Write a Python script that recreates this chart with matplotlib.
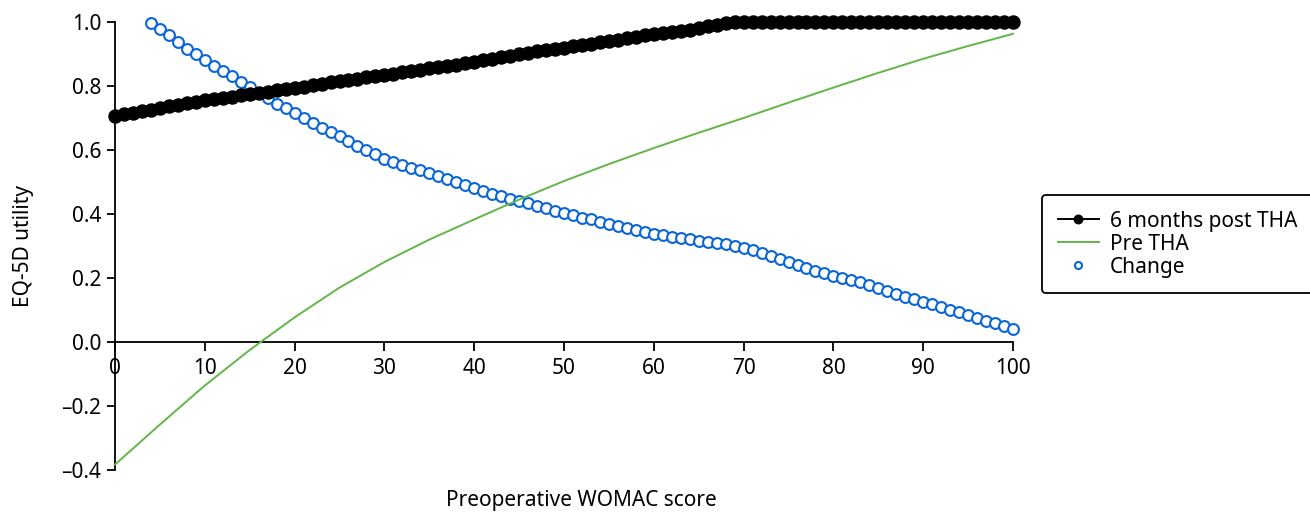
import matplotlib
matplotlib.use("Agg")
import matplotlib.pyplot as plt
import numpy as np

# values (one point per WOMAC unit)
post_x = list(range(0, 101))
post_tha = [
    0.707, 0.712, 0.717, 0.722, 0.726, 0.731, 0.736, 0.741, 0.746, 0.751,
    0.756, 0.760, 0.764, 0.767, 0.771, 0.775, 0.779, 0.782, 0.786, 0.790,
    0.793, 0.797, 0.802, 0.806, 0.811, 0.815, 0.819, 0.823, 0.827, 0.831,
    0.835, 0.839, 0.843, 0.847, 0.851, 0.855, 0.859, 0.863, 0.867, 0.871,
    0.875, 0.880, 0.885, 0.890, 0.895, 0.900, 0.904, 0.908, 0.912, 0.916,
    0.920, 0.924, 0.928, 0.932, 0.936, 0.940, 0.944, 0.949, 0.953, 0.958,
    0.962, 0.965, 0.968, 0.972, 0.976, 0.980, 0.986, 0.991, 0.997, 1.000,
    1.000, 1.000, 1.000, 1.000, 1.000, 1.000, 1.000, 1.000, 1.000, 1.000,
    1.000, 1.000, 1.000, 1.000, 1.000, 1.000, 1.000, 1.000, 1.000, 1.000,
    1.000, 1.000, 1.000, 1.000, 1.000, 1.000, 1.000, 1.000, 1.000, 1.000,
    1.000,
]

pre_x = [0, 5, 10, 15, 20, 25, 30, 35, 40, 45, 50, 55, 60, 65, 70, 75, 80, 85, 90, 95, 100]
pre_tha = [-0.383, -0.258, -0.136, -0.025, 0.077, 0.170, 0.250, 0.320, 0.383, 0.445,
           0.503, 0.556, 0.606, 0.654, 0.700, 0.748, 0.795, 0.841, 0.885, 0.925, 0.963]

change_x = list(range(4, 101))
change = [
    0.996, 0.977, 0.958, 0.937, 0.917, 0.900, 0.881, 0.862, 0.847, 0.830,
    0.813, 0.796, 0.778, 0.761, 0.745, 0.730, 0.715, 0.700, 0.685, 0.670,
    0.657, 0.643, 0.629, 0.614, 0.600, 0.586, 0.573, 0.563, 0.553, 0.545,
    0.537, 0.528, 0.518, 0.508, 0.500, 0.491, 0.481, 0.472, 0.463, 0.456,
    0.448, 0.440, 0.433, 0.426, 0.418, 0.410, 0.402, 0.396, 0.389, 0.383,
    0.376, 0.368, 0.361, 0.355, 0.350, 0.345, 0.339, 0.334, 0.329, 0.325,
    0.322, 0.317, 0.313, 0.308, 0.305, 0.300, 0.295, 0.286, 0.277, 0.268,
    0.259, 0.250, 0.240, 0.231, 0.223, 0.216, 0.207, 0.199, 0.193, 0.186,
    0.178, 0.168, 0.159, 0.149, 0.141, 0.134, 0.126, 0.118, 0.109, 0.101,
    0.093, 0.083, 0.074, 0.066, 0.058, 0.050, 0.040,
]

x_ticks = [0, 10, 20, 30, 40, 50, 60, 70, 80, 90, 100]
y_ticks = [-0.4, -0.2, 0.0, 0.2, 0.4, 0.6, 0.8, 1.0]
y_tick_labels = ["\u20130.4", "\u20130.2", "0.0", "0.2", "0.4", "0.6", "0.8", "1.0"]

plt.rcParams["font.family"] = ["Noto Sans", "DejaVu Sans"]
plt.rcParams["font.size"] = 15

fig = plt.figure(figsize=(13.1, 5.15), dpi=100)
ax = fig.add_axes([0.0878, 0.0874, 0.6855, 0.8699])

blue = "#0a66d6"
green = "#62b548"

ax.plot(change_x, change, linestyle="none", marker="o", markersize=7.8,
        markerfacecolor="white", markeredgecolor=blue, markeredgewidth=1.5,
        label="Change", zorder=3, clip_on=False)
ax.plot(pre_x, pre_tha, color=green, linewidth=1.4, label="Pre THA",
        zorder=4, clip_on=False)
ax.plot(post_x, post_tha, color="black", linewidth=1.4, marker="o",
        markersize=9.4, label="6 months post THA", zorder=5, clip_on=False)

ax.set_xlim(0, 100)
ax.set_ylim(-0.4, 1.0)

# x axis crosses at y = 0
ax.spines["bottom"].set_position(("data", 0))
ax.spines["top"].set_visible(False)
ax.spines["right"].set_visible(False)
for s in ["left", "bottom"]:
    ax.spines[s].set_linewidth(1.3)

ax.set_xticks(x_ticks)
ax.set_yticks(y_ticks)
ax.set_yticklabels(y_tick_labels)
ax.tick_params(axis="x", direction="out", length=6.5, width=1.3, pad=5, labelsize=15)
ax.tick_params(axis="y", direction="out", length=6, width=1.3, pad=4, labelsize=15)

ax.set_ylabel("EQ-5D utility", fontsize=15)
ax.yaxis.set_label_coords(-0.09, 0.5)
ax.set_xlabel("Preoperative WOMAC score", fontsize=15)
ax.xaxis.set_label_coords(0.519, -0.045)

handles, labels = ax.get_legend_handles_labels()
order = [2, 1, 0]
leg = ax.legend([handles[i] for i in order], [labels[i] for i in order],
                loc="upper left", bbox_to_anchor=(1042 / 1310, 1 - 195 / 515),
                bbox_transform=fig.transFigure, fontsize=15, frameon=True,
                fancybox=True, edgecolor="black", framealpha=1,
                markerscale=0.65, handlelength=2.0, handletextpad=0.5,
                labelspacing=0.1, borderpad=0.75, borderaxespad=0)
leg.get_frame().set_linewidth(1.3)

fig.savefig("out.png", dpi=100)
